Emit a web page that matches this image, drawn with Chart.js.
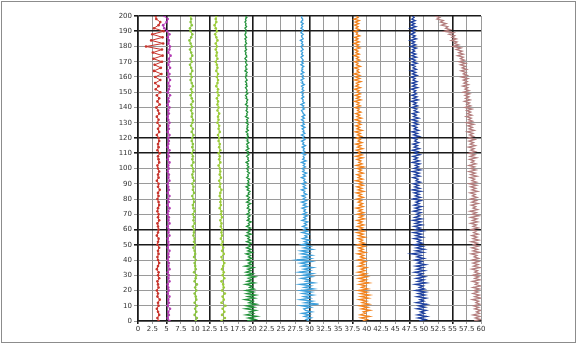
<!DOCTYPE html>
<html>
<head>
<meta charset="utf-8">
<script src="https://cdn.jsdelivr.net/npm/chart.js@4"></script>
<style>
	html, body { margin: 0; padding: 0; background: #fff; }
	#wrap { position: relative; width: 578px; height: 345px; }
</style>
</head>
<body>
<div id="wrap"><canvas id="profileChart" width="578" height="345"></canvas></div>
<script>
// depth levels (y axis): every 2 units for the quiet lines, every unit for the noisy ones
const depthsCoarse = Array.from({ length: 101 }, (_, i) => i * 2);
const depthsFine = Array.from({ length: 201 }, (_, i) => i);

// x positions, listed from depth 0 upward
const redLine = [
	3.6,3.4,3.7,3.5,3.3,3.6,3.5,3.8,3.4,3.5,
	3.3,3.6,3.5,3.4,3.7,3.5,3.6,3.3,3.5,3.7,
	3.5,3.4,3.6,3.5,3.7,3.4,3.5,3.6,3.3,3.5,
	3.6,3.5,3.4,3.7,3.5,3.6,3.4,3.5,3.7,3.6,
	3.4,3.6,3.5,3.8,3.5,3.6,3.3,3.6,3.5,3.7,
	3.5,3.4,3.7,3.6,3.5,3.8,3.4,3.6,3.5,3.7,
	3.6,3.3,3.7,3.5,3.8,3.4,3.6,3.3,3.7,3.5,
	3.2,3.8,3.4,3.7,3.3,3.9,3.1,3.6,3.0,3.9,
	3.0,4.1,2.8,4.0,2.9,4.2,2.7,4.3,2.6,4.2,
	1.4,4.4,2.3,4.3,2.5,4.5,2.8,3.6,3.9,3.2,
	3.1
];
const magentaLine = [
	5.5,5.2,5.4,5.3,5.6,5.2,5.4,5.3,5.5,5.2,
	5.4,5.3,5.2,5.5,5.3,5.4,5.2,5.5,5.3,5.4,
	5.2,5.4,5.3,5.5,5.2,5.4,5.3,5.2,5.5,5.3,
	5.4,5.2,5.5,5.3,5.4,5.2,5.3,5.5,5.2,5.4,
	5.3,5.5,5.2,5.4,5.3,5.2,5.5,5.3,5.4,5.2,
	5.4,5.3,5.5,5.2,5.4,5.3,5.5,5.2,5.3,5.4,
	5.3,5.5,5.2,5.4,5.3,5.5,5.3,5.2,5.4,5.3,
	5.5,5.2,5.4,5.3,5.6,5.2,5.4,5.5,5.3,5.6,
	5.3,5.5,5.2,5.6,5.3,5.5,5.4,5.7,5.3,5.5,
	5.6,5.3,5.4,5.2,5.5,5.1,4.6,4.4,5.0,5.2,
	4.6
];
const limeLineA = [
	10.1,10.3,9.9,10.2,10.0,10.3,9.9,10.2,10.1,9.9,
	10.2,10.0,10.3,9.9,10.1,10.2,9.8,10.1,10.0,9.9,
	10.1,9.8,10.0,9.9,9.7,10.0,9.8,9.9,9.7,9.8,
	9.8,9.6,9.9,9.7,9.8,9.6,9.9,9.7,9.6,9.8,
	9.7,9.5,9.8,9.6,9.7,9.5,9.8,9.6,9.5,9.7,
	9.6,9.4,9.7,9.5,9.6,9.4,9.7,9.5,9.6,9.4,
	9.5,9.7,9.4,9.6,9.3,9.5,9.6,9.4,9.5,9.3,
	9.5,9.3,9.6,9.4,9.2,9.5,9.3,9.6,9.4,9.2,
	9.4,9.2,9.5,9.3,9.1,9.4,9.2,9.5,9.3,9.1,
	9.4,9.2,9.0,9.3,9.5,9.2,9.1,9.4,9.2,9.3,
	9.2
];
const limeLineB = [
	14.6,15.2,14.7,15.1,14.8,15.3,14.6,15.0,14.8,15.2,
	14.7,15.0,14.9,14.6,15.1,14.8,15.0,14.7,14.9,15.1,
	14.8,14.6,15.0,14.7,14.9,14.6,14.8,14.5,14.7,14.6,
	14.7,14.5,14.6,14.4,14.7,14.5,14.6,14.3,14.5,14.4,
	14.5,14.3,14.4,14.6,14.3,14.4,14.2,14.5,14.3,14.4,
	14.3,14.1,14.4,14.2,14.3,14.1,14.4,14.2,14.3,14.1,
	14.2,14.0,14.3,14.1,14.2,13.9,14.1,14.0,14.2,13.9,
	14.1,13.9,14.0,13.8,14.1,13.9,14.0,13.7,13.9,14.0,
	13.8,14.0,13.7,13.9,13.8,13.6,13.9,13.7,13.8,13.6,
	13.8,13.6,13.9,13.7,13.5,13.8,13.6,13.4,13.7,13.6,
	13.7
];
const greenLine = [
	19.1,20.5,19.3,20.8,18.9,20.2,19.5,20.6,18.8,20.3,
	19.0,20.7,19.4,20.1,18.7,20.4,19.2,20.6,19.0,20.2,
	18.9,20.3,19.5,20.0,18.8,20.4,19.1,19.9,19.3,20.5,
	19.0,20.1,18.9,19.8,19.2,20.2,18.7,19.9,19.3,20.0,
	19.1,19.9,19.3,19.7,18.9,20.0,19.2,19.8,19.0,19.6,
	19.3,19.8,19.0,19.7,19.2,19.5,18.9,19.8,19.1,19.6,
	19.2,19.7,19.0,19.5,19.3,19.8,19.1,19.5,19.2,19.6,
	19.0,19.5,19.3,19.6,19.1,19.4,19.2,19.7,19.0,19.5,
	19.2,19.5,19.0,19.4,19.3,19.6,19.1,19.4,18.9,19.5,
	19.1,19.4,19.2,19.5,19.0,19.3,19.2,19.5,19.1,19.3,
	19.0,19.4,19.1,19.3,18.9,19.4,19.2,19.3,19.0,19.4,
	19.1,19.3,18.9,19.4,19.1,19.2,19.0,19.4,19.1,19.2,
	18.9,19.3,19.1,19.2,18.9,19.3,19.0,19.2,19.1,19.3,
	18.9,19.2,19.0,19.3,18.8,19.1,19.0,19.2,18.9,19.1,
	19.0,19.2,18.8,19.1,19.0,19.2,18.9,19.0,18.8,19.2,
	18.9,19.1,19.0,18.8,19.1,18.9,19.0,18.8,19.1,18.9,
	18.8,19.0,18.9,19.1,18.7,19.0,18.9,18.8,19.1,18.9,
	18.8,19.0,18.7,18.9,19.0,18.8,18.9,18.7,19.0,18.8,
	18.9,18.7,19.0,18.8,18.9,18.7,19.0,18.8,18.7,18.9,
	18.8,18.9,18.7,19.0,18.8,18.9,18.7,18.9,18.8,19.0,
	18.9
];
const skyLine = [
	29.9,29.4,30.3,29.1,30.0,28.7,30.4,29.3,29.0,30.2,
	28.6,31.6,29.2,30.5,28.4,30.1,29.0,30.6,28.8,30.3,
	28.5,30.7,29.1,30.2,28.3,30.8,29.3,29.9,28.6,30.4,
	28.9,30.5,28.2,30.1,29.0,30.6,28.7,29.8,28.4,30.3,
	27.8,30.2,28.9,30.4,28.6,29.9,28.5,30.5,29.0,30.1,
	28.6,29.8,29.1,30.0,28.8,29.6,29.2,29.9,28.7,29.7,
	29.0,29.6,28.8,29.5,29.1,29.7,28.7,29.4,29.0,29.6,
	28.8,29.5,29.0,29.3,28.7,29.6,28.9,29.4,28.6,29.5,
	28.9,29.3,28.7,29.5,29.0,29.2,28.6,29.4,28.9,29.3,
	28.7,29.4,29.0,29.2,28.6,29.3,28.9,29.5,28.8,29.1,
	28.7,29.3,28.9,29.2,28.6,29.4,28.8,29.1,28.9,29.3,
	28.6,29.2,28.9,29.1,28.7,29.3,28.8,29.0,28.6,29.2,
	28.8,29.1,28.6,29.2,28.9,29.0,28.7,29.2,28.6,29.1,
	28.8,29.0,28.6,29.1,28.7,29.2,28.9,28.8,28.6,29.1,
	28.7,29.0,28.5,29.1,28.8,28.9,28.6,29.0,28.7,28.9,
	28.5,29.0,28.7,28.9,28.6,29.1,28.7,28.8,28.5,29.0,
	28.7,28.9,28.5,29.0,28.6,28.8,28.7,29.0,28.5,28.9,
	28.6,28.9,28.7,28.5,28.9,28.6,28.8,28.5,28.9,28.7,
	28.5,28.9,28.6,28.8,28.4,28.9,28.7,28.6,28.9,28.5,
	28.7,28.9,28.5,28.8,28.6,28.9,28.5,28.7,28.8,28.6,
	28.7
];
const orangeLine = [
	39.3,40.1,39.0,40.5,38.9,39.8,39.4,40.6,39.1,40.2,
	38.8,40.4,39.2,40.0,38.7,40.3,39.0,40.5,38.9,40.1,
	38.6,40.2,39.1,39.8,38.7,40.4,38.9,39.9,38.6,40.1,
	38.8,39.9,38.5,39.7,39.0,40.0,38.6,39.6,38.9,39.8,
	38.5,39.7,38.9,39.5,38.4,39.8,38.7,39.4,38.6,39.7,
	38.4,39.6,38.8,39.3,38.5,39.7,38.6,39.4,38.3,39.6,
	38.7,39.3,38.4,39.5,38.6,39.2,38.3,39.6,38.7,39.4,
	38.4,39.5,38.6,39.2,38.2,39.4,38.7,39.3,38.5,39.1,
	38.3,39.4,38.6,39.1,38.2,39.5,38.5,39.2,38.3,39.4,
	38.6,39.2,38.1,39.3,38.5,39.0,38.3,39.4,38.6,39.1,
	38.4,39.5,38.2,39.2,38.6,39.0,38.3,39.3,38.1,39.2,
	38.5,38.9,38.2,39.3,38.4,39.0,38.1,39.2,38.5,38.9,
	38.2,39.1,38.4,38.9,38.0,39.2,38.3,38.8,38.1,39.0,
	38.4,38.9,38.0,39.1,38.3,38.8,38.1,39.0,38.4,38.7,
	38.0,38.9,38.3,38.7,37.9,39.0,38.2,38.8,38.0,38.9,
	38.3,38.7,37.9,38.9,38.1,38.6,38.2,39.0,37.9,38.8,
	38.1,38.8,37.8,38.7,38.3,38.6,37.9,38.9,38.2,38.5,
	37.9,38.8,38.2,38.6,37.8,38.7,38.1,38.5,37.9,38.8,
	38.1,38.6,37.8,38.7,38.0,38.5,37.9,38.8,38.2,38.4,
	37.8,38.7,38.1,38.5,37.9,38.6,38.0,38.7,37.8,38.5,
	38.2
];
const navyLine = [
	49.2,50.3,49.0,50.5,48.9,50.1,49.4,50.4,48.8,50.2,
	49.1,50.5,48.7,50.0,49.3,50.4,48.8,50.2,49.0,50.3,
	48.6,50.1,49.2,49.9,48.5,50.4,48.9,50.0,48.7,50.2,
	49.0,49.8,48.4,50.1,48.8,49.9,48.6,50.3,48.9,49.7,
	48.5,50.0,48.8,49.6,47.8,49.9,48.6,50.1,48.7,49.8,
	48.4,49.7,48.9,49.5,48.3,49.8,48.6,49.6,48.2,49.9,
	48.6,49.4,48.3,49.7,48.5,49.5,48.1,49.6,48.4,49.3,
	48.7,49.5,48.2,49.4,48.5,49.6,48.3,49.2,48.6,49.5,
	48.1,49.4,48.5,49.2,48.3,49.5,48.0,49.3,48.4,49.1,
	48.2,49.4,48.6,49.0,48.1,49.3,48.4,49.2,48.0,49.4,
	48.3,49.1,48.5,49.3,48.0,49.2,48.3,48.9,48.1,49.3,
	48.4,49.0,48.0,49.2,48.3,48.9,48.1,49.1,48.4,48.8,
	48.0,49.2,48.2,48.9,47.9,49.1,48.3,48.8,48.0,49.0,
	48.2,48.9,47.9,49.1,48.2,48.7,48.0,49.0,48.3,48.8,
	47.9,48.9,48.2,48.7,47.8,49.0,48.1,48.8,47.9,48.7,
	48.2,48.6,47.8,48.9,48.0,48.7,47.9,48.8,48.1,48.5,
	47.8,48.8,48.0,48.6,47.7,48.7,48.1,48.5,47.8,48.8,
	48.0,48.5,47.7,48.7,47.9,48.6,47.8,48.4,48.0,48.7,
	47.7,48.6,47.9,48.4,47.6,48.7,48.0,48.5,47.7,48.4,
	47.9,48.5,47.6,48.6,47.8,48.4,47.7,48.5,47.9,48.3,
	48.0
];
const brownLine = [
	58.8,59.9,59.0,59.8,58.6,59.7,59.2,60.0,58.9,59.6,
	58.7,59.8,59.1,59.6,58.5,59.9,58.9,59.7,58.6,59.5,
	58.8,59.7,58.6,59.9,59.0,59.5,58.5,59.8,58.9,59.6,
	58.6,59.7,58.9,59.4,58.4,59.8,58.7,59.5,58.6,59.6,
	58.5,59.6,58.8,59.3,58.3,59.7,58.6,59.4,58.4,59.5,
	58.7,59.4,58.3,59.6,58.6,59.3,58.4,59.5,58.7,59.2,
	58.3,59.5,58.6,59.2,58.2,59.4,58.5,59.3,58.2,59.6,
	58.5,59.2,58.1,59.4,58.6,59.1,58.3,59.5,58.4,59.2,
	58.2,59.3,58.5,59.0,58.1,59.4,58.4,59.1,58.2,59.2,
	58.0,59.2,58.4,58.9,58.1,59.3,58.2,59.0,57.9,59.1,
	58.2,58.9,57.9,59.1,58.3,58.8,58.0,59.2,58.1,58.9,
	57.9,59.0,58.2,58.8,57.8,59.0,58.1,58.7,57.9,58.9,
	57.8,58.7,58.0,58.6,57.6,58.8,57.9,58.5,57.7,58.7,
	57.5,58.5,57.8,58.3,57.4,58.4,57.6,58.2,57.5,58.4,
	57.2,58.2,57.5,58.0,57.1,58.1,57.3,57.9,57.2,58.0,
	56.9,57.9,57.2,57.7,56.8,57.8,57.0,57.6,56.9,57.7,
	56.6,57.6,56.9,57.4,56.5,57.5,56.7,57.3,56.4,57.3,
	56.2,57.1,56.4,56.9,55.9,56.9,56.1,56.7,55.7,56.5,
	55.1,56.1,55.3,55.8,54.8,55.7,54.9,55.4,54.4,55.2,
	53.6,54.6,53.8,54.2,53.1,53.9,52.9,53.4,52.3,52.8,
	51.9
];

const seriesList = [
	{ values: redLine, depths: depthsCoarse, color: "#c8342c", dots: true },
	{ values: magentaLine, depths: depthsCoarse, color: "#b23ab4", dots: true },
	{ values: limeLineA, depths: depthsCoarse, color: "#8cc63f", dots: true },
	{ values: limeLineB, depths: depthsCoarse, color: "#9ccc3a", dots: true },
	{ values: greenLine, depths: depthsFine, color: "#22913a", dots: false },
	{ values: skyLine, depths: depthsFine, color: "#3d9fdb", dots: false },
	{ values: orangeLine, depths: depthsFine, color: "#f2821c", dots: false },
	{ values: navyLine, depths: depthsFine, color: "#1d3f9e", dots: false },
	{ values: brownLine, depths: depthsFine, color: "#b37d7d", dots: false },
];

// heavy grid lines as seen in the picture
const heavyX = [0, 5, 12.5, 20, 30, 37.5, 47.5, 55];
const heavyY = [50, 60, 110, 120, 190, 200];

const datasets = seriesList.map((s) => ({
	data: s.values.map((v, i) => ({ x: v, y: s.depths[i] })),
	showLine: true,
	borderColor: s.color,
	borderWidth: s.dots ? 1 : 1.3,
	pointRadius: s.dots ? 1.3 : 0,
	pointBorderWidth: 0,
	pointBackgroundColor: s.color,
	tension: 0,
}));

// grey frame round the whole picture
const framePlugin = {
	id: "frame",
	beforeDraw(chart) {
		const ctx = chart.ctx;
		ctx.save();
		ctx.fillStyle = "#fff";
		ctx.fillRect(0, 0, chart.width, chart.height);
		ctx.restore();
	},
	afterDraw(chart) {
		const ctx = chart.ctx;
		ctx.save();
		ctx.strokeStyle = "#8c8c8c";
		ctx.lineWidth = 1;
		ctx.strokeRect(1.5, 1.5, chart.width - 4, chart.height - 4);
		ctx.restore();
	},
};

const tickFont = { family: "DejaVu Sans", size: 7 };

new Chart(document.getElementById("profileChart"), {
	type: "scatter",
	data: { datasets: datasets },
	options: {
		responsive: false,
		animation: false,
		layout: { padding: { left: 100, right: 97, top: 16, bottom: 10 } },
		plugins: { legend: { display: false }, tooltip: { enabled: false } },
		scales: {
			x: {
				type: "linear",
				min: 0,
				max: 60,
				afterFit: (scale) => { scale.height = 14; },
				ticks: {
					stepSize: 2.5,
					autoSkip: false,
					maxRotation: 0,
					padding: 1,
					color: "#333",
					font: tickFont,
				},
				grid: {
					color: (c) => heavyX.includes(c.tick && c.tick.value) ? "#1a1a1a" : "#9a9a9a",
					lineWidth: (c) => heavyX.includes(c.tick && c.tick.value) ? 1.6 : 1,
					tickLength: 3,
				},
				border: { color: "#1a1a1a", width: 1.5 },
			},
			y: {
				type: "linear",
				min: 0,
				max: 200,
				afterFit: (scale) => { scale.width = 38; },
				ticks: {
					stepSize: 10,
					padding: 2,
					color: "#333",
					font: tickFont,
				},
				grid: {
					color: (c) => heavyY.includes(c.tick && c.tick.value) ? "#1a1a1a" : "#9a9a9a",
					lineWidth: (c) => heavyY.includes(c.tick && c.tick.value) ? 1.6 : 1,
					tickLength: 4,
				},
				border: { color: "#1a1a1a", width: 1.5 },
			},
		},
	},
	plugins: [framePlugin],
});
</script>
</body>
</html>
